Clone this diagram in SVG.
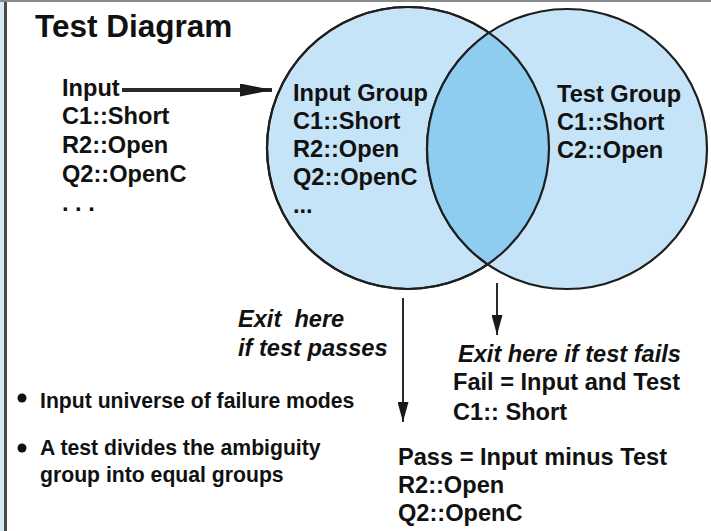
<svg xmlns="http://www.w3.org/2000/svg" width="711" height="531" viewBox="0 0 711 531">
  <style>
    text { font-family: "Liberation Sans", Arial, sans-serif; font-weight: bold; fill: #111; }
    .t { font-size: 23.6px; }
    .title { font-size: 31.5px; }
    .note { font-size: 21.2px; }
    .it { font-style: italic; }
    .set { fill: #c6e4f7; stroke: #1e1e1e; stroke-width: 2.2; }
    .both { fill: #8ecdef; stroke: #1e1e1e; stroke-width: 2.2; }
    .wire { stroke: #2a2a2a; fill: none; }
  </style>
  <defs>
    <marker id="headBig" viewBox="0 0 10 10" refX="10" refY="5" markerUnits="userSpaceOnUse" markerWidth="32" markerHeight="13" orient="auto" preserveAspectRatio="none">
      <path d="M0,0 L10,5 L0,10 Z" fill="#1a1a1a"/>
    </marker>
    <marker id="head" viewBox="0 0 10 10" refX="10" refY="5" markerUnits="userSpaceOnUse" markerWidth="20" markerHeight="11" orient="auto" preserveAspectRatio="none">
      <path d="M0,0 L10,5 L0,10 Z" fill="#1a1a1a"/>
    </marker>
    <clipPath id="leftSet">
      <circle cx="408" cy="148" r="141"/>
    </clipPath>
  </defs>

  <!-- page frame -->
  <rect x="0" y="0" width="711" height="531" fill="#ffffff"/>
  <rect x="0" y="0" width="4" height="531" fill="#d4ebf7"/>
  <rect x="4" y="0" width="3" height="531" fill="#4a4a4a"/>
  <rect x="0" y="0" width="711" height="2" fill="#8a8a8a"/>

  <text class="title" x="35" y="37">Test Diagram</text>

  <!-- sets -->
  <g id="input-group">
    <circle class="set" cx="408" cy="148" r="141"/>
  </g>
  <g id="test-group">
    <circle class="set" cx="567" cy="149" r="140"/>
  </g>
  <g id="overlap">
    <circle class="both" cx="567" cy="149" r="140" clip-path="url(#leftSet)"/>
    <circle cx="408" cy="148" r="141" fill="none" stroke="#1e1e1e" stroke-width="2.2"/>
  </g>

  <!-- connectors -->
  <g id="connectors">
    <line class="wire" x1="122" y1="90" x2="272" y2="90" stroke-width="4" marker-end="url(#headBig)"/>
    <line class="wire" x1="403" y1="298" x2="403" y2="422" stroke-width="2" marker-end="url(#head)"/>
    <line class="wire" x1="497" y1="283" x2="497" y2="335" stroke-width="2" marker-end="url(#head)"/>
  </g>

  <g id="input-list">
    <text class="t" x="62" y="96">Input</text>
    <text class="t" x="62" y="124">C1::Short</text>
    <text class="t" x="62" y="153">R2::Open</text>
    <text class="t" x="62" y="182">Q2::OpenC</text>
    <text class="t" x="62" y="211">. . .</text>
  </g>

  <g id="input-group-label">
    <text class="t" x="293" y="101">Input Group</text>
    <text class="t" x="293" y="129">C1::Short</text>
    <text class="t" x="293" y="157">R2::Open</text>
    <text class="t" x="293" y="185">Q2::OpenC</text>
    <text class="t" x="293" y="213">...</text>
  </g>

  <g id="test-group-label">
    <text class="t" x="557" y="102">Test Group</text>
    <text class="t" x="557" y="130">C1::Short</text>
    <text class="t" x="557" y="158">C2::Open</text>
  </g>

  <g id="pass-exit">
    <text class="t it" x="238" y="327" xml:space="preserve">Exit  here</text>
    <text class="t it" x="238" y="356">if test passes</text>
  </g>

  <g id="fail-exit">
    <text class="t it" x="458" y="362">Exit here if test fails</text>
    <text class="t" x="453" y="390">Fail = Input and Test</text>
    <text class="t" x="453" y="420">C1:: Short</text>
  </g>

  <g id="pass-result">
    <text class="t" x="398" y="465">Pass = Input minus Test</text>
    <text class="t" x="398" y="493">R2::Open</text>
    <text class="t" x="398" y="521">Q2::OpenC</text>
  </g>

  <g id="notes">
    <circle cx="22" cy="398" r="4.5" fill="#111"/>
    <text class="note" x="40" y="408">Input universe of failure modes</text>
    <circle cx="22" cy="448" r="4.5" fill="#111"/>
    <text class="note" x="40" y="455">A test divides the ambiguity</text>
    <text class="note" x="40" y="482">group into equal groups</text>
  </g>
</svg>
